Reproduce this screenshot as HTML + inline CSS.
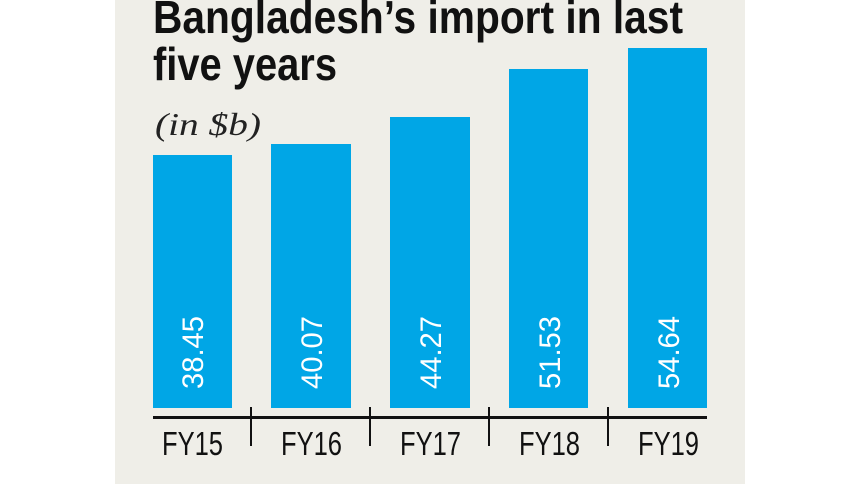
<!DOCTYPE html>
<html><head><style>
html,body{margin:0;padding:0;background:#fff;}
</style></head><body>
<svg width="860" height="484" xmlns="http://www.w3.org/2000/svg">
<rect x="115" y="0" width="630" height="484" fill="#efeee8"/>
<text x="153" y="33" font-family="Liberation Sans, sans-serif" font-weight="bold" font-size="46" textLength="530" lengthAdjust="spacingAndGlyphs" fill="#111">Bangladesh’s import in last</text>
<text x="153" y="80" font-family="Liberation Sans, sans-serif" font-weight="bold" font-size="46" textLength="184" lengthAdjust="spacingAndGlyphs" fill="#111">five years</text>
<text x="155" y="135" font-family="Liberation Serif, serif" font-style="italic" font-size="32" textLength="106" lengthAdjust="spacingAndGlyphs" fill="#222">(in $b)</text>
<g fill="#00a6e6">
<rect x="153" y="155" width="79" height="253"/>
<rect x="271" y="144" width="80" height="264"/>
<rect x="390" y="117" width="80" height="291"/>
<rect x="509" y="69" width="79" height="339"/>
<rect x="628" y="48" width="79" height="360"/>
</g>
<g font-family="Liberation Sans, sans-serif" font-size="30" fill="#fff">
<text transform="translate(203,389) rotate(-90)" textLength="73" lengthAdjust="spacingAndGlyphs">38.45</text>
<text transform="translate(322,389) rotate(-90)" textLength="73" lengthAdjust="spacingAndGlyphs">40.07</text>
<text transform="translate(441,389) rotate(-90)" textLength="73" lengthAdjust="spacingAndGlyphs">44.27</text>
<text transform="translate(560,389) rotate(-90)" textLength="73" lengthAdjust="spacingAndGlyphs">51.53</text>
<text transform="translate(679,389) rotate(-90)" textLength="73" lengthAdjust="spacingAndGlyphs">54.64</text>
</g>
<rect x="153" y="416" width="554" height="3" fill="#111"/>
<g fill="#111">
<rect x="250" y="407" width="2" height="39"/>
<rect x="369" y="407" width="2" height="39"/>
<rect x="488" y="407" width="2" height="39"/>
<rect x="607" y="407" width="2" height="39"/>
</g>
<g font-family="Liberation Sans, sans-serif" font-size="33" fill="#111">
<text x="162" y="455" textLength="61" lengthAdjust="spacingAndGlyphs">FY15</text>
<text x="281" y="455" textLength="61" lengthAdjust="spacingAndGlyphs">FY16</text>
<text x="400" y="455" textLength="61" lengthAdjust="spacingAndGlyphs">FY17</text>
<text x="519" y="455" textLength="61" lengthAdjust="spacingAndGlyphs">FY18</text>
<text x="638" y="455" textLength="61" lengthAdjust="spacingAndGlyphs">FY19</text>
</g>
</svg>
</body></html>
